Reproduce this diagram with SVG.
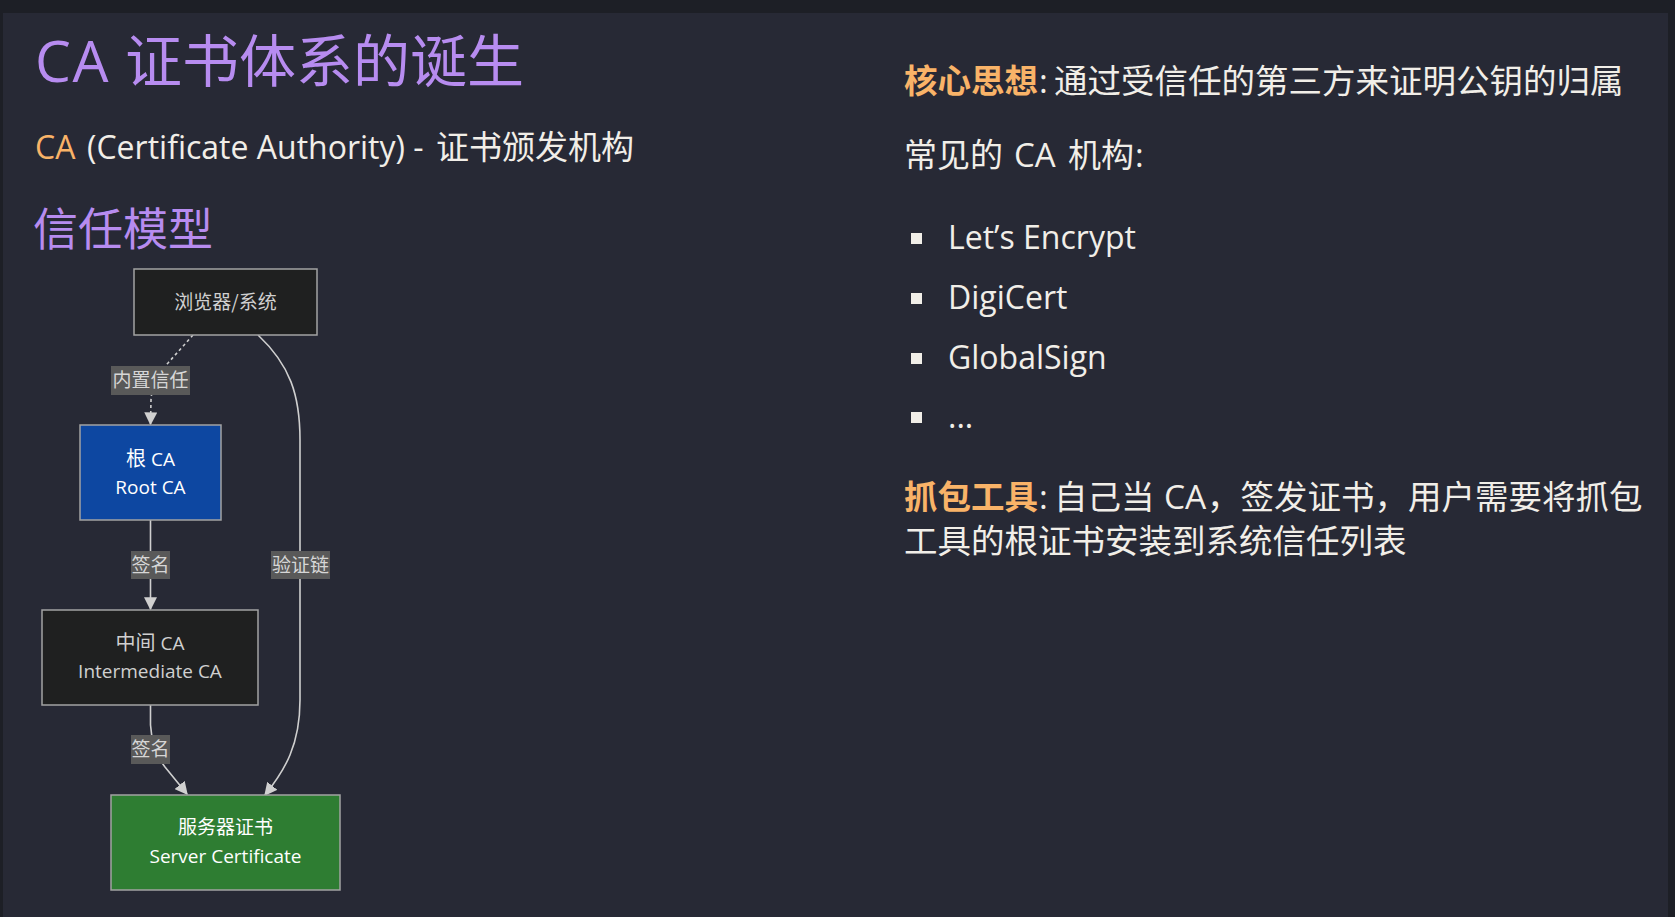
<svg xmlns="http://www.w3.org/2000/svg" width="1675" height="917" viewBox="0 0 1675 917">
<defs>
<style>
.lat{font-family:"Open Sans","Noto Sans CJK SC",sans-serif}
.cjk{font-family:"Noto Sans CJK SC","Open Sans",sans-serif}
.title{fill:#b78cf0}
.body{fill:#f1eee8}
.hl{fill:#f9b368}
.node{stroke:#a3a3a3;stroke-width:1.5}
.ntxt{font-size:19px;text-anchor:middle}
.edge{fill:none;stroke:#cfcfcf;stroke-width:1.6}
.lbl{fill:#595959}
.ltxt{font-size:19px;fill:#d6d6d6;text-anchor:middle}
.bul{fill:#f1eee8}
</style>
<marker id="arr" viewBox="0 0 10 10" refX="9" refY="5" markerWidth="13" markerHeight="13" markerUnits="userSpaceOnUse" orient="auto">
<path d="M0,0 L10,5 L0,10 z" fill="#d0d0d0"/>
</marker>
</defs>
<rect x="0" y="0" width="1675" height="917" fill="#1d1f26"/>
<rect x="3" y="13" width="1665" height="904" fill="#272935"/>

<g id="left-text">
<text class="lat title" x="35" y="82" font-size="57" letter-spacing="1.5">CA</text>
<text class="cjk title" x="125" y="82" font-size="57">证书体系的诞生</text>
<text class="lat hl" x="35" y="159" font-size="32">CA</text>
<text class="lat body" x="87" y="159" font-size="32">(Certificate Authority) -</text>
<text class="cjk body" x="436" y="159" font-size="33">证书颁发机构</text>
<text class="cjk title" x="33" y="246" font-size="45">信任模型</text>
</g>

<g id="right-text">
<text class="cjk hl" x="904" y="93" font-size="33.5" font-weight="bold">核心思想</text>
<text class="lat body" x="1039" y="93" font-size="33.5">:</text>
<text class="cjk body" x="1054" y="93" font-size="33.5">通过受信任的第三方来证明公钥的归属</text>
<text class="cjk body" x="904" y="167" font-size="33">常见的</text>
<text class="lat body" x="1014" y="167" font-size="33">CA</text>
<text class="cjk body" x="1068" y="167" font-size="33">机构</text>
<text class="lat body" x="1135" y="167" font-size="33">:</text>
<rect class="bul" x="911" y="233" width="11" height="11"/>
<rect class="bul" x="911" y="293" width="11" height="11"/>
<rect class="bul" x="911" y="353" width="11" height="11"/>
<rect class="bul" x="911" y="412" width="11" height="11"/>
<text class="lat body" x="948" y="249" font-size="32">Let’s Encrypt</text>
<text class="lat body" x="948" y="309" font-size="32">DigiCert</text>
<text class="lat body" x="948" y="369" font-size="32">GlobalSign</text>
<text class="lat body" x="948" y="428" font-size="32">...</text>
<text class="cjk body" font-size="33.5"><tspan class="hl" x="904" y="509" font-weight="bold">抓包工具</tspan><tspan class="lat" x="1039" y="509">:</tspan><tspan x="1054" y="509">自己当</tspan><tspan class="lat" x="1164" y="509">CA</tspan><tspan x="1207" y="509">，签发证书，用户需要将抓包</tspan><tspan x="904" y="553">工具的根证书安装到系统信任列表</tspan></text>
</g>

<g id="connectors">
<path class="edge" d="M193,335 L168,363 Q152,380 151,400 L150.5,424" stroke-dasharray="3,3" marker-end="url(#arr)"/>
<path class="edge" d="M258,335 C290,365 300,395 300,440 L300,700 C300,745 285,770 265,795" marker-end="url(#arr)"/>
<path class="edge" d="M150.5,520 L150.5,609" marker-end="url(#arr)"/>
<path class="edge" d="M150.5,705 L150.5,725 Q152,750 165,767 L187,794" marker-end="url(#arr)"/>
<rect class="lbl" x="111" y="366" width="79" height="29"/>
<text class="cjk ltxt" x="150.5" y="387">内置信任</text>
<rect class="lbl" x="131" y="551" width="39" height="28"/>
<text class="cjk ltxt" x="150.5" y="572">签名</text>
<rect class="lbl" x="271" y="551" width="59" height="28"/>
<text class="cjk ltxt" x="300.5" y="572">验证链</text>
<rect class="lbl" x="131" y="735" width="39" height="29"/>
<text class="cjk ltxt" x="150.5" y="756">签名</text>
</g>

<g id="node-browser">
<rect class="node" x="134" y="269" width="183" height="66" fill="#1f2020"/>
<text class="cjk ntxt" x="225.5" y="309" fill="#d0d0d0" font-size="20">浏览器/系统</text>
</g>
<g id="node-root">
<rect class="node" x="80" y="425" width="141" height="95" fill="#0d47a1"/>
<text class="lat ntxt" x="150.5" y="466" fill="#ffffff"><tspan class="cjk" font-size="20">根</tspan> CA</text>
<text class="lat ntxt" x="150.5" y="494" fill="#ffffff">Root CA</text>
</g>
<g id="node-intermediate">
<rect class="node" x="42" y="610" width="216" height="95" fill="#1f2020"/>
<text class="lat ntxt" x="150" y="650" fill="#d0d0d0"><tspan class="cjk" font-size="20">中间</tspan> CA</text>
<text class="lat ntxt" x="150" y="678" fill="#d0d0d0">Intermediate CA</text>
</g>
<g id="node-server">
<rect class="node" x="111" y="795" width="229" height="95" fill="#2e7d32"/>
<text class="cjk ntxt" x="225.5" y="834" fill="#ffffff" font-size="20">服务器证书</text>
<text class="lat ntxt" x="225.5" y="863" fill="#ffffff">Server Certificate</text>
</g>
</svg>
